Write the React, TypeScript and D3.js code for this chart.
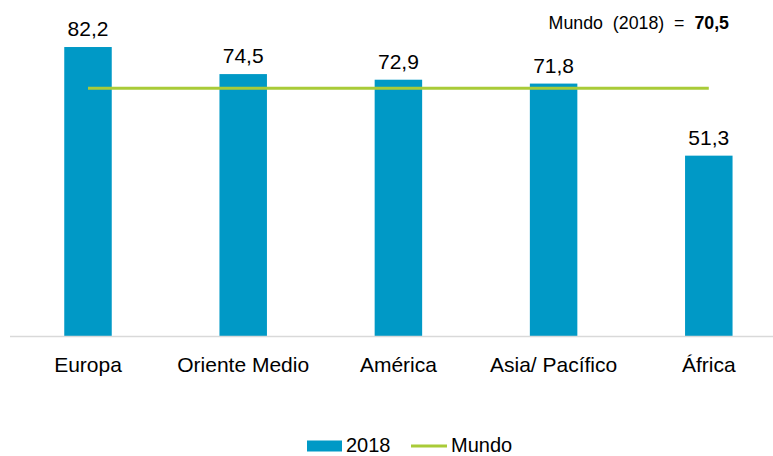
import React from "react";
import * as d3 from "d3";

const categories = ["Europa", "Oriente Medio", "América", "Asia/ Pacífico", "África"];
const values2018 = [82.2, 74.5, 72.9, 71.8, 51.3];
const mundoValue = 70.5;
const valueLabels = ["82,2", "74,5", "72,9", "71,8", "51,3"];
const mundoLabel = "70,5";
const legendLabels = ["2018", "Mundo"];

const W = 773;
const H = 456;
const BAR = "#0099C6";
const LINE = "#A9CB38";
const FONT = "'Liberation Sans', Arial, sans-serif";

export default function App() {
  const x = d3.scaleBand<string>().domain(categories).range([10.4, 786.4]).padding(0);
  const y = d3.scaleLinear().domain([0, 90]).range([336, 19.6]);
  const bw = x.bandwidth() * 0.306;
  const cx = (c: string) => (x(c) as number) + x.bandwidth() / 2;
  const first = cx(categories[0]);
  const last = cx(categories[categories.length - 1]);

  return (
    <div style={{ position: "absolute", left: 0, top: 0 }}>
      <svg width={W} height={H} style={{ display: "block", background: "#fff" }} fontFamily={FONT}>
        {categories.map((c, i) => (
          <rect key={c} x={cx(c) - bw / 2} y={y(values2018[i])} width={bw} height={y(0) - y(values2018[i])} fill={BAR} />
        ))}
        <line x1={10} x2={W} y1={y(0) + 0.5} y2={y(0) + 0.5} stroke="#D9D9D9" strokeWidth={1.5} />
        <line x1={first} x2={last} y1={y(mundoValue)} y2={y(mundoValue)} stroke={LINE} strokeWidth={3} />
        {categories.map((c, i) => (
          <text key={"v" + c} x={cx(c)} y={y(values2018[i]) - 11} textAnchor="middle" fontSize={21} fill="#000">
            {valueLabels[i]}
          </text>
        ))}
        {categories.map((c) => (
          <text key={"c" + c} x={cx(c)} y={372} textAnchor="middle" fontSize={21} fill="#000">
            {c}
          </text>
        ))}
        <text x={729} y={29} textAnchor="end" fontSize={17.8} fill="#000" xmlSpace="preserve">
          {"Mundo  (2018)  =  "}
          <tspan fontWeight="bold">{mundoLabel}</tspan>
        </text>
        <rect x={307} y={440.5} width={35} height={11} fill={BAR} />
        <text x={346} y={451.5} fontSize={20} fill="#000">{legendLabels[0]}</text>
        <line x1={411} x2={447} y1={446} y2={446} stroke={LINE} strokeWidth={3} />
        <text x={451} y={451.5} fontSize={20} fill="#000">{legendLabels[1]}</text>
      </svg>
    </div>
  );
}
